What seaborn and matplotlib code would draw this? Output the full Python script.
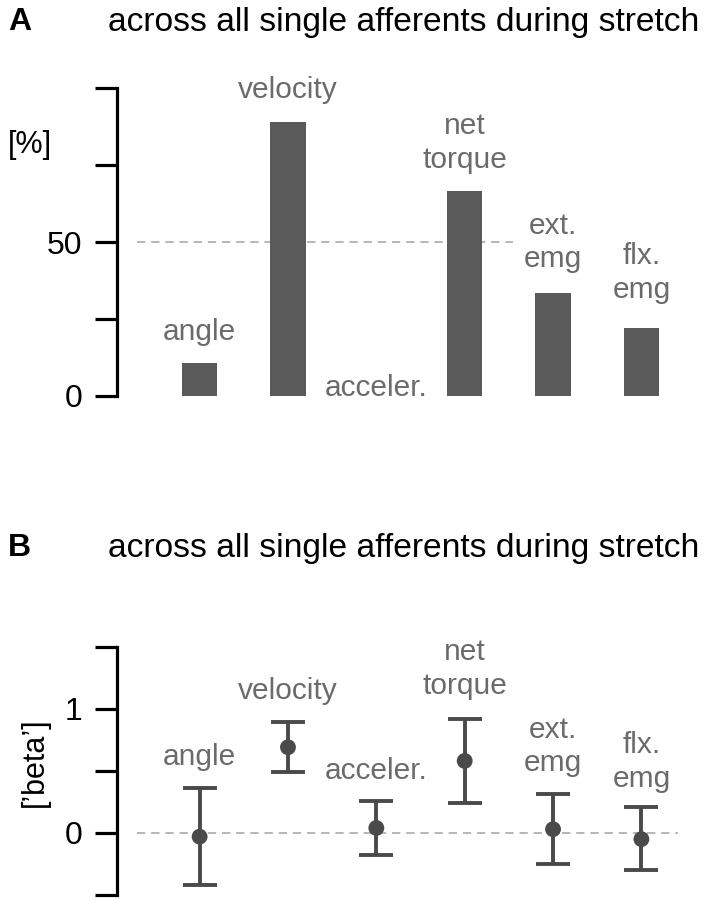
import matplotlib.pyplot as plt
import seaborn as sns
import pandas as pd
import numpy as np

# categories (shared by both panels)
variables = ["angle", "velocity", "acceler.", "net\ntorque", "ext.\nemg", "flx.\nemg"]

# panel A: percentage of afferents
pct_values = [10.7, 89.0, 0.0, 66.6, 33.3, 22.2]

# panel B: beta estimates with error bounds
beta_mean = [-0.03, 0.69, 0.04, 0.58, 0.03, -0.05]
beta_low = [-0.42, 0.49, -0.18, 0.24, -0.25, -0.30]
beta_high = [0.365, 0.89, 0.256, 0.92, 0.31, 0.21]

title = "across all single afferents during stretch"

# layout: label offsets above the mark (pixels)
offs_a = [23, 24, 0, 23, 26, 30]
offs_b = [23, 23, 22, 25, 23, 20]

sns.set_style("ticks")
plt.rcParams['font.family'] = ['Liberation Sans', 'DejaVu Sans']
plt.rcParams['text.color'] = 'black'

W, H = 712, 900
fig = plt.figure(figsize=(W / 100, H / 100), dpi=100)

bar_color = "#5a5a5a"
label_color = "#6b6b6b"
err_color = "#4a4a4a"
dash_color = "#aaaaaa"
xlim = (-0.935, 5.55)


def style_axis(ax):
    sns.despine(ax=ax, bottom=True)
    ax.spines['left'].set_linewidth(2.3)
    ax.spines['left'].set_color('black')
    ax.tick_params(axis='y', left=True, length=16, width=2.3, pad=9, labelsize=23,
                   color='black', labelcolor='black', direction='out')
    ax.set_xticks([])
    ax.set_xlabel("")
    ax.set_ylabel("")
    ax.set_xlim(*xlim)
    ax.patch.set_alpha(0)


# ---- panel A ----
ax1 = fig.add_axes([117 / W, 1 - 396 / H, 573 / W, 308 / H])
df_a = pd.DataFrame({"variable": variables, "pct": pct_values})
ax1.hlines(50, -0.707, 3.55, colors=dash_color, linestyles=(0, (5, 3.5)), linewidth=1.2, zorder=0)
sns.barplot(data=df_a, x="variable", y="pct", color=bar_color, width=0.4, ax=ax1,
            saturation=1, edgecolor='none', zorder=2)
ax1.set_ylim(0, 100)
ax1.set_yticks([0, 25, 50, 75, 100])
ax1.set_yticklabels(["0", "", "50", "", ""])
style_axis(ax1)
for i, (lab, v) in enumerate(zip(variables, pct_values)):
    ax1.annotate(lab, (i, v), xytext=(0, offs_a[i] * 0.72), textcoords='offset points',
                 ha='center', va='baseline', fontsize=21.5, color=label_color,
                 linespacing=1.25, multialignment='center')

fig.text(8 / W, 1 - 145 / H, "[%]", fontsize=22, va='center', ha='left')
fig.text(8 / W, 1 - 22 / H, "A", fontsize=23, fontweight='bold', va='center', ha='left')
fig.text(108 / W, 1 - 22 / H, title, fontsize=24.2, va='center', ha='left')

# ---- panel B ----
ax2 = fig.add_axes([117 / W, 1 - 895 / H, 573 / W, (895 - 646.7) / H])
ax2.axhline(0, color=dash_color, linestyle=(0, (5, 3.5)), linewidth=1.2, zorder=0,
            xmin=(-0.707 - xlim[0]) / (xlim[1] - xlim[0]), xmax=(5.41 - xlim[0]) / (xlim[1] - xlim[0]))
df_b = pd.DataFrame({"variable": variables, "beta": beta_mean,
                     "low": beta_low, "high": beta_high})
xpos = np.arange(len(variables))
ax2.errorbar(xpos, df_b["beta"], yerr=[df_b["beta"] - df_b["low"], df_b["high"] - df_b["beta"]],
             fmt='none', ecolor=err_color, elinewidth=2.8, capsize=12.5, capthick=2.8, zorder=2)
sns.scatterplot(data=df_b, x="variable", y="beta", color=err_color, s=130, edgecolor='none',
                ax=ax2, zorder=3)
ax2.set_ylim(-0.5, 1.5)
ax2.set_yticks([-0.5, 0, 0.5, 1, 1.5])
ax2.set_yticklabels(["", "0", "", "1", ""])
style_axis(ax2)
for i, (lab, v) in enumerate(zip(variables, beta_high)):
    ax2.annotate(lab, (i, v), xytext=(0, offs_b[i] * 0.72), textcoords='offset points',
                 ha='center', va='baseline', fontsize=21.5, color=label_color,
                 linespacing=1.25, multialignment='center')

fig.text(35 / W, 1 - 762 / H, "[\u2019beta\u2019]", fontsize=22, rotation=90, va='center', ha='center')
fig.text(8 / W, 1 - 548 / H, "B", fontsize=23, fontweight='bold', va='center', ha='left')
fig.text(108 / W, 1 - 548 / H, title, fontsize=24.2, va='center', ha='left')

fig.savefig("out.png", dpi=100)
